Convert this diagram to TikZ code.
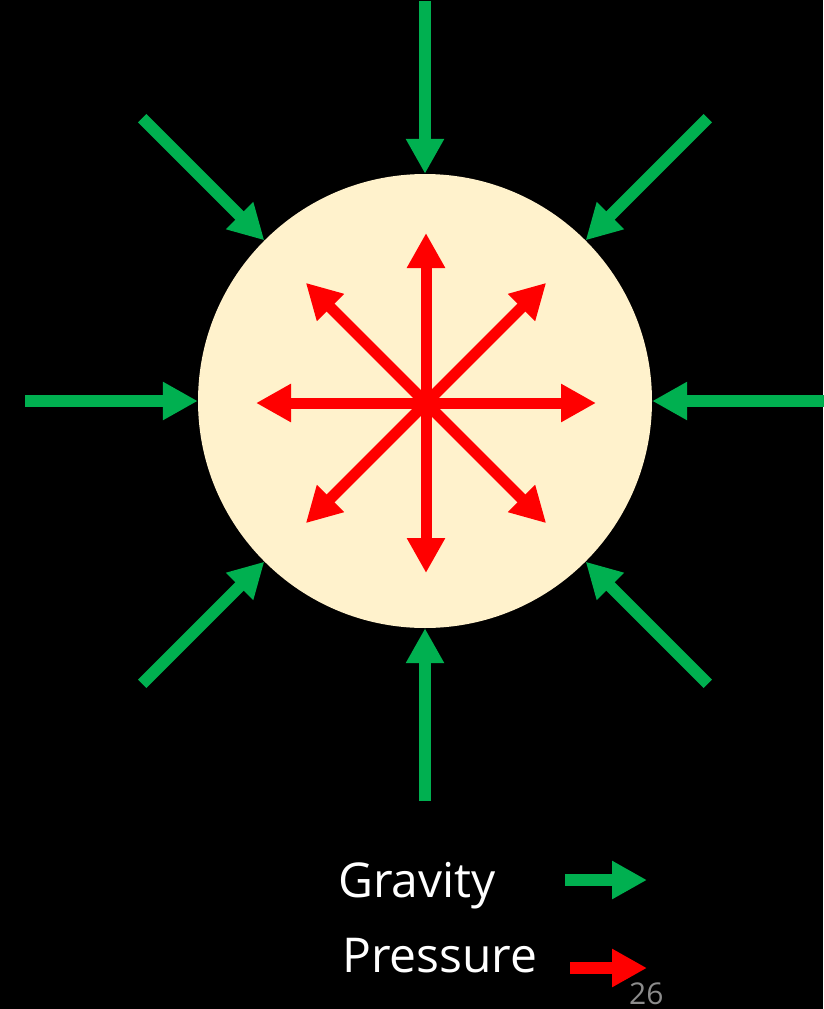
\documentclass[tikz,border=0pt]{standalone}
\usepackage{fontspec}
\setmainfont{Open Sans}
\usetikzlibrary{arrows.meta,calc}
\definecolor{gravgreen}{HTML}{00B050}
\definecolor{pressred}{HTML}{FF0000}
\definecolor{starfill}{HTML}{FFF2CC}
\definecolor{pagegray}{HTML}{8C8C8C}
\tikzset{
  gravarrow/.style={draw=gravgreen, line width=12pt, -{Triangle[length=35pt,width=36pt]}},
  pressarrow/.style={draw=pressred, line width=11pt, -{Triangle[length=35pt,width=36pt]}},
  legendtext/.style={text=white, font=\fontsize{48}{52}\selectfont, anchor=base west, inner sep=0pt},
}
\begin{document}
\begin{tikzpicture}[x=1pt,y=-1pt]
\fill[black] (0,0) rectangle (823,1009);
\useasboundingbox (0,0) rectangle (823,1009);
% star
\node[circle, fill=starfill, draw=none, minimum size=454pt, inner sep=0pt] (star) at (425,401) {};
% green outer coordinates (radius 400)
\foreach \a/\n in {90/gN,45/gNE,0/gE,-45/gSE,-90/gS,-135/gSW,180/gW,135/gNW}{
  \coordinate (\n) at ($(star.center)+(\a:400pt)$);
}
\foreach \a/\n in {90/gN,45/gNE,0/gE,-45/gSE,-90/gS,-135/gSW,180/gW,135/gNW}{
  \draw[gravarrow] (\n) -- (star.\a);
}
% pressure
\coordinate (c) at (426,403);
\foreach \a/\n in {90/pN,45/pNE,0/pE,-45/pSE,-90/pS,-135/pSW,180/pW,135/pNW}{
  \coordinate (\n) at ($(c)+(\a:170pt)$);
}
\foreach \n in {pN,pNE,pE,pSE,pS,pSW,pW,pNW}{
  \draw[pressarrow] (c) -- (\n);
}
% legend
\node[legendtext] (grav) at (338,897) {Gravity};
\node[legendtext] (press) at (342,972) {Pressure};
\coordinate (lg1) at (565,880);
\coordinate (lg2) at (647,880);
\coordinate (lp1) at (570,968);
\coordinate (lp2) at (647,968);
\draw[gravarrow] (lg1) -- (lg2);
\draw[pressarrow, line width=12pt] (lp1) -- (lp2);
\node[text=pagegray, font=\fontsize{30}{32}\selectfont, anchor=base west, inner sep=0pt] (page) at (629,1004) {26};
\end{tikzpicture}
\end{document}
